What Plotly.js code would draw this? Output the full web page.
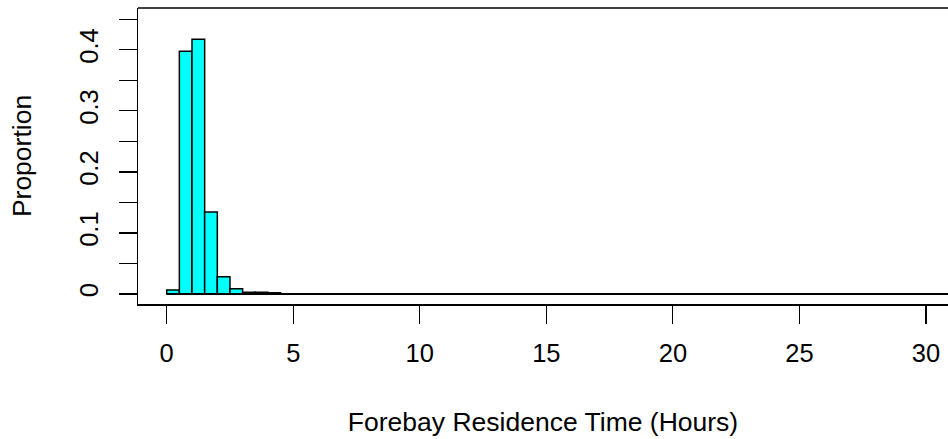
<!DOCTYPE html>
<html>
<head>
<meta charset="utf-8">
<script src="https://cdn.plot.ly/plotly-3.0.1.min.js"></script>
<style>
html, body { margin: 0; padding: 0; background: #fff; overflow: hidden; }
#chart { width: 948px; height: 439px; }
</style>
</head>
<body>
<div id="chart"></div>
<script>
// Histogram data: bin starts (hours), bin width and proportion per bin
const binStart = [0, 0.5, 1, 1.5, 2, 2.5, 3, 3.5, 4];
const binWidth = 0.5;
const proportion = [0.0066, 0.3976, 0.4172, 0.1343, 0.0284, 0.0087, 0.003, 0.003, 0.002];
// Remaining (empty) bins run up to this many hours
const maxHours = 32;
const xTicks = [0, 5, 10, 15, 20, 25, 30];
const yTicks = [0, 0.05, 0.1, 0.15, 0.2, 0.25, 0.3, 0.35, 0.4, 0.45];
const yTickText = ['0', '', '0.1', '', '0.2', '', '0.3', '', '0.4', ''];

const FONT = 'Liberation Sans, Arial, sans-serif';
const TICKFONT = { family: FONT, size: 25.5, color: '#000000' };
const TITLEFONT = { family: FONT, size: 26.5, color: '#000000' };

const bars = {
  type: 'bar',
  x: binStart,
  y: proportion,
  width: binStart.map(() => binWidth),
  offset: 0,
  marker: { color: '#00FFFF', line: { color: '#000000', width: 1.5 } },
  hoverinfo: 'x+y'
};

const baseline = {
  type: 'scatter',
  mode: 'lines',
  x: [binStart[0], maxHours],
  y: [0, 0],
  line: { color: '#000000', width: 2 },
  hoverinfo: 'skip'
};

const layout = {
  width: 948,
  height: 439,
  margin: { l: 138, r: 0, t: 8, b: 135 },
  paper_bgcolor: '#ffffff',
  plot_bgcolor: '#ffffff',
  showlegend: false,
  bargap: 0,
  font: { family: FONT, size: 25, color: '#000000' },
  xaxis: {
    range: [-1.134, 30.87],
    tickvals: xTicks,
    ticktext: xTicks.map(String),
    ticks: 'outside',
    ticklen: 18,
    tickwidth: 1.2,
    tickcolor: '#000000',
    ticklabelstandoff: 8,
    showgrid: false,
    zeroline: false,
    showline: true,
    linecolor: '#000000',
    linewidth: 1.5,
    tickfont: TICKFONT,
    title: { text: 'Forebay Residence Time (Hours)', font: TITLEFONT, standoff: 46 }
  },
  yaxis: {
    range: [-0.01638, 0.46855],
    tickvals: yTicks,
    ticktext: yTickText,
    tickangle: -90,
    ticks: 'outside',
    ticklen: 18,
    tickwidth: 1.2,
    tickcolor: '#000000',
    ticklabelstandoff: 10,
    showgrid: false,
    zeroline: false,
    showline: true,
    linecolor: '#000000',
    linewidth: 1.5,
    tickfont: TICKFONT,
    title: { text: 'Proportion', font: TITLEFONT, standoff: 36 }
  },
  shapes: [
    { type: 'line', xref: 'paper', yref: 'paper', x0: 0, x1: 1.05, y0: 1, y1: 1,
      line: { color: '#000000', width: 1.5 } }
  ]
};

Plotly.newPlot('chart', [baseline, bars], layout, { displayModeBar: false, staticPlot: true });
</script>
</body>
</html>
